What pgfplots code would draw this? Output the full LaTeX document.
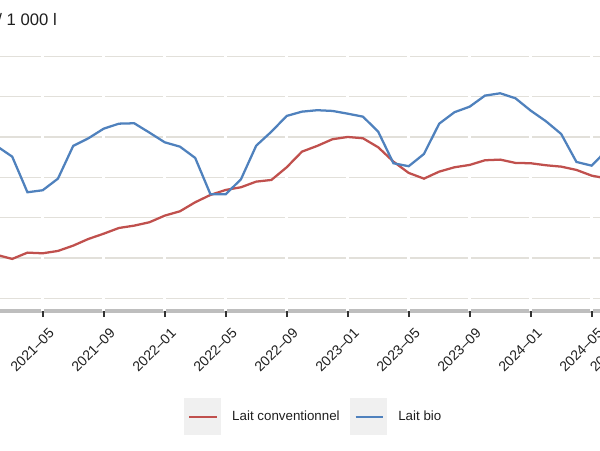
\documentclass[border=0pt]{standalone}
\usepackage{pgfplots}
\pgfplotsset{compat=1.18}
\usepackage{fontspec}
\setmainfont{Liberation Sans}
\definecolor{gridc}{RGB}{226,224,218}
\definecolor{axc}{RGB}{190,190,190}
\definecolor{redc}{RGB}{192,80,77}
\definecolor{bluec}{RGB}{79,129,189}
\definecolor{legbg}{RGB}{240,240,240}
\definecolor{txt}{RGB}{30,30,30}

\pgfplotstableread{
m conv bio
0 352.0 495.0
1 353.8 488.6
2 348.8 475.7
3 356.6 431.5
4 355.8 434.0
5 358.7 448.4
6 365.3 489.0
7 373.6 498.5
8 380.1 510.4
9 387.2 516.6
10 390.1 517.1
11 394.3 505.5
12 402.5 493.5
13 407.9 488.1
14 419.1 474.1
15 428.2 429.0
16 434.4 429.0
17 437.7 447.6
18 444.7 489.3
19 446.8 506.7
20 462.5 526.2
21 481.9 531.5
22 489.0 533.3
23 497.3 532.4
24 500.1 529.0
25 498.5 525.3
26 487.3 506.7
27 469.5 467.5
28 455.5 463.8
29 448.4 479.0
30 457.1 516.6
31 462.5 530.8
32 465.4 537.7
33 471.2 551.4
34 472.0 554.3
35 467.9 548.1
36 467.5 532.8
37 465.0 519.6
38 463.3 503.8
39 459.2 469.1
40 452.1 464.5
41 448.6 484.0
}\milk

\begin{document}
\begin{tikzpicture}
% background axis: horizontal grid and x axis line
\begin{axis}[
  at={(-36.6pt,104.25pt)}, anchor=south west,
  scale only axis, width=526.125pt, height=207pt,
  xmin=-2, xmax=44, ymin=284.2, ymax=626.6,
  axis x line=bottom, axis y line=left,
  x axis line style={-, line width=3pt, color=axc},
  y axis line style={draw=none},
  xtick=\empty,
  ytick={300,350,400,450,500,550,600},
  yticklabel=\empty,
  ytick style={draw=none},
  ymajorgrids,
  y grid style={gridc, line width=1pt},
]
\end{axis}
% foreground axis: white vertical grid, ticks, data, legend
\begin{axis}[
  at={(-36.6pt,104.25pt)}, anchor=south west,
  scale only axis, width=526.125pt, height=207pt,
  xmin=-2, xmax=44, ymin=284.2, ymax=626.6,
  axis x line=bottom, axis y line=left,
  axis line style={draw=none, -},
  ytick=\empty,
  xtick={4,8,12,16,20,24,28,32,36,40,42},
  xticklabels={2021--05,2021--09,2022--01,2022--05,2022--09,2023--01,2023--05,2023--09,2024--01,2024--05,2024--07},
  tick align=outside,
  major tick length=4.5pt,
  xtick style={draw=black!80, line width=1.5pt},
  xmajorgrids,
  x grid style={white, line width=2pt},
  xticklabel style={rotate=45, anchor=north east, font=\fontsize{10.5}{12}\selectfont, text=txt, inner sep=1pt, xshift=-1.5pt, yshift=-7pt},
  legend columns=2,
  legend style={at={(axis description cs:0.3323,-0.383)}, anchor=west, draw=none, fill=none,
    inner sep=0pt, outer sep=0pt,
    font=\fontsize{10}{12}\selectfont, text=txt,
    nodes={inner sep=0pt},
    /tikz/every odd column/.append style={column sep=8.25pt},
    /tikz/every even column/.append style={column sep=8pt}},
  legend image code/.code={
    \fill[legbg] (0pt,-13pt) rectangle (26pt,13pt);
    \draw[#1] (3pt,0pt) -- (23.5pt,0pt);
  },
]
\addplot[redc, line width=1.7pt] table[x=m, y=conv] {\milk};
\addlegendentry{Lait conventionnel}
\addplot[bluec, line width=1.7pt] table[x=m, y=bio] {\milk};
\addlegendentry{Lait bio}
\end{axis}
\node[anchor=base east, inner sep=0pt, font=\fontsize{12.5}{15}\selectfont, text=txt] at (42.75pt,318pt) {€ / 1 000 l};
\pgfresetboundingbox
\path[use as bounding box] (0pt,0pt) rectangle (450pt,337.5pt);
\end{tikzpicture}
\end{document}
